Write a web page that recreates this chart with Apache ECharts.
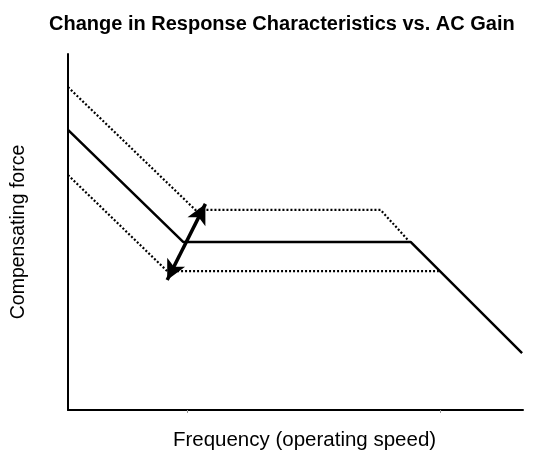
<!DOCTYPE html>
<html>
<head>
<meta charset="utf-8">
<script src="https://cdn.jsdelivr.net/npm/echarts@6/dist/echarts.min.js"></script>
<style>html,body{margin:0;padding:0;background:#fff}#c{width:543px;height:464px}</style>
</head>
<body>
<div id="c"></div>
<script>
// Data (abstract units: frequency 0-100, force 0-100)
const nominalX = [0, 25.3, 75.3, 99.8];
const nominalY = [78.7, 47.2, 47.2, 16.0];
const highGainX = [0, 28.0, 68.7, 74.9];
const highGainY = [90.7, 56.2, 56.2, 47.5];
const lowGainX = [0, 21.8, 81.5];
const lowGainY = [66.0, 39.0, 39.0];
const arrowFrom = [21.8, 36.5];
const arrowTo = [30.2, 57.9];
const xTickValues = [26.2, 81.9];

const zip = (xs, ys) => xs.map((x, i) => [x, ys[i]]);
const font = 'Liberation Sans, Arial, sans-serif';

const chart = echarts.init(document.getElementById('c'), null, {renderer: 'canvas'});
chart.setOption({
  animation: false,
  backgroundColor: '#fff',
  title: {
    text: 'Change in Response Characteristics vs. AC Gain',
    left: 44, top: 9,
    textStyle: {fontFamily: font, fontWeight: 'bold', fontSize: 20, color: '#000'}
  },
  grid: {left: 68, right: 20, top: 54, bottom: 54},
  xAxis: {
    type: 'value', min: 0, max: 100,
    name: 'Frequency (operating speed)', nameLocation: 'middle', nameGap: 20,
    nameTextStyle: {fontFamily: font, fontSize: 20.5, color: '#000', padding: [0, 0, 0, 18]},
    axisLine: {lineStyle: {color: '#000', width: 2}},
    axisTick: {show: true, customValues: xTickValues, length: 3, lineStyle: {color: '#999', width: 1}},
    axisLabel: {show: false}, splitLine: {show: false}
  },
  yAxis: {
    type: 'value', min: 0, max: 100,
    name: 'Compensating force', nameLocation: 'middle', nameGap: 39,
    nameTextStyle: {fontFamily: font, fontSize: 19.5, color: '#000'},
    axisLine: {onZero: false, lineStyle: {color: '#000', width: 2}},
    axisTick: {show: false}, axisLabel: {show: false}, splitLine: {show: false}
  },
  series: [
    {
      type: 'line', data: zip(highGainX, highGainY), symbol: 'none',
      lineStyle: {color: '#000', width: 2.2, type: [2, 2]}, silent: true
    },
    {
      type: 'line', data: zip(lowGainX, lowGainY), symbol: 'none',
      lineStyle: {color: '#000', width: 2.2, type: [2, 2]}, silent: true
    },
    {
      type: 'line', data: zip(nominalX, nominalY), symbol: 'none',
      lineStyle: {color: '#000', width: 2.5}, silent: true, z: 3,
      markLine: {
        silent: true, animation: false,
        symbol: ['arrow', 'arrow'], symbolSize: [15, 20],
        label: {show: false},
        lineStyle: {color: '#000', width: 3.5, type: 'solid'},
        itemStyle: {color: '#000'},
        data: [[{coord: arrowFrom}, {coord: arrowTo}]]
      }
    }
  ]
});
</script>
</body>
</html>
